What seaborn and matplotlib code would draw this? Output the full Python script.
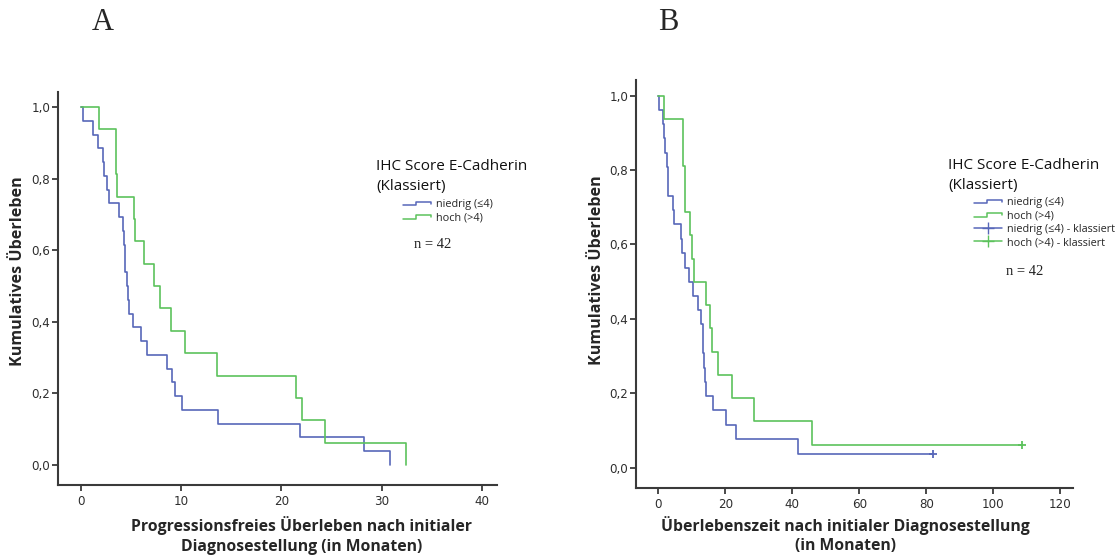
import matplotlib
matplotlib.use("Agg")
import matplotlib.pyplot as plt
from matplotlib.lines import Line2D
from matplotlib.legend_handler import HandlerBase
import numpy as np
import pandas as pd
import seaborn as sns

# ---- Kaplan-Meier step data: event times (months) and survival after each event ----
# A: progression-free survival
pfs_low_t = [0.26, 1.26, 1.7, 2.2, 2.3, 2.6, 2.85, 3.85, 4.25, 4.3, 4.38, 4.45, 4.58,
             4.75, 4.85, 5.25, 6.0, 6.65, 8.65, 9.15, 9.4, 10.15, 13.7, 21.85, 28.25, 30.85]
pfs_low_s = [0.962, 0.923, 0.885, 0.846, 0.808, 0.769, 0.731, 0.692, 0.654, 0.615, 0.577,
             0.538, 0.500, 0.462, 0.423, 0.385, 0.346, 0.308, 0.269, 0.231, 0.192, 0.154,
             0.115, 0.077, 0.038, 0.0]
pfs_high_t = [1.86, 3.52, 3.55, 3.6, 5.3, 5.45, 6.3, 7.35, 7.95, 9.05, 10.4, 13.55,
              21.45, 22.05, 24.35, 32.45]
pfs_high_s = [0.938, 0.875, 0.812, 0.750, 0.688, 0.625, 0.562, 0.500, 0.438, 0.375,
              0.312, 0.250, 0.188, 0.125, 0.062, 0.0]

# B: overall survival (last patient of each group censored)
os_low_t = [0.3, 1.3, 1.7, 2.1, 2.5, 2.8, 3.0, 4.5, 4.8, 6.7, 7.0, 8.0, 9.2, 10.45, 11.9,
            12.6, 13.2, 13.4, 13.7, 13.9, 14.2, 16.2, 20.3, 23.2, 41.8]
os_low_s = [0.962, 0.923, 0.885, 0.846, 0.808, 0.769, 0.731, 0.692, 0.654, 0.615, 0.577,
            0.538, 0.500, 0.462, 0.423, 0.385, 0.346, 0.308, 0.269, 0.231, 0.192, 0.154,
            0.115, 0.077, 0.038]
os_low_cens = 81.9
os_high_t = [1.8, 7.3, 7.4, 8.0, 8.1, 9.45, 10.15, 10.8, 14.2, 15.5, 15.9, 17.9, 22.0,
             28.5, 46.0]
os_high_s = [0.938, 0.875, 0.812, 0.750, 0.688, 0.625, 0.562, 0.500, 0.438, 0.375,
             0.312, 0.250, 0.188, 0.125, 0.062]
os_high_cens = 108.7

group_labels = ["niedrig (≤4)", "hoch (>4)"]
cens_labels = ["niedrig (≤4) - klassiert", "hoch (>4) - klassiert"]
legend_title = "IHC Score E-Cadherin\n(Klassiert)"
n_text = "n = 42"
y_ticks = [0.0, 0.2, 0.4, 0.6, 0.8, 1.0]
y_ticklabels = ["0,0", "0,2", "0,4", "0,6", "0,8", "1,0"]
xticks_a = [0, 10, 20, 30, 40]
xticks_b = [0, 20, 40, 60, 80, 100, 120]
ylabel = "Kumulatives Überleben"
xlabel_a = "Progressionsfreies Überleben nach initialer\nDiagnosestellung (in Monaten)"
xlabel_b = "Überlebenszeit nach initialer Diagnosestellung\n(in Monaten)"

BLUE = "#5767b9"
GREEN = "#5cc25c"
AXC = "#3a3a3a"
SANS = ["Open Sans", "DejaVu Sans"]

sns.set_style("ticks")
plt.rcParams["font.family"] = ["DejaVu Sans"]


def km_frame(times, surv, end=None):
    t = [0.0] + list(times)
    s = [1.0] + list(surv)
    if end is not None:
        t.append(end)
        s.append(surv[-1])
    return pd.DataFrame({"t": t, "s": s})


class StepHandler(HandlerBase):
    """Legend key drawn as a small survival step."""
    def create_artists(self, legend, orig_handle, xdescent, ydescent, width, height,
                       fontsize, trans):
        x0, y0 = -xdescent, -ydescent
        xs = [x0, x0 + 0.45 * width, x0 + 0.45 * width, x0 + width, x0 + width]
        ys = [y0 + 0.2 * height, y0 + 0.2 * height, y0 + 0.7 * height,
              y0 + 0.7 * height, y0 + 0.4 * height]
        ln = Line2D(xs, ys, color=orig_handle.get_color(), lw=1.1, transform=trans)
        return [ln]


fig = plt.figure(figsize=(11.15, 5.58), dpi=100)
W, H = 1115, 558
axA = fig.add_axes([58 / W, 1 - 485 / H, 439 / W, 393 / H])
axB = fig.add_axes([636 / W, 1 - 488 / H, 436.7 / W, 408 / H])

# Panel A curves
sns.lineplot(data=km_frame(pfs_low_t, pfs_low_s), x="t", y="s", ax=axA, color=BLUE,
             drawstyle="steps-post", estimator=None, sort=False, lw=1.2)
sns.lineplot(data=km_frame(pfs_high_t, pfs_high_s), x="t", y="s", ax=axA, color=GREEN,
             drawstyle="steps-post", estimator=None, sort=False, lw=1.2)

# Panel B curves with censored endpoints
sns.lineplot(data=km_frame(os_low_t, os_low_s, os_low_cens), x="t", y="s", ax=axB,
             color=BLUE, drawstyle="steps-post", estimator=None, sort=False, lw=1.2)
sns.lineplot(data=km_frame(os_high_t, os_high_s, os_high_cens), x="t", y="s", ax=axB,
             color=GREEN, drawstyle="steps-post", estimator=None, sort=False, lw=1.2)
sns.scatterplot(x=[os_low_cens], y=[os_low_s[-1]], ax=axB, marker="+", s=40,
                color=BLUE, linewidth=1.3, zorder=5)
sns.scatterplot(x=[os_high_cens], y=[os_high_s[-1]], ax=axB, marker="+", s=40,
                color=GREEN, linewidth=1.3, zorder=5)

for ax, xt, xl, lab in [(axA, xticks_a, (-2.26, 41.5), xlabel_a),
                        (axB, xticks_b, (-6.66, 123.7), xlabel_b)]:
    ax.set_xlim(*xl)
    ax.set_xticks(xt)
    ax.set_xticklabels([str(v) for v in xt])
    ax.set_yticks(y_ticks)
    ax.set_yticklabels(y_ticklabels)
    for sp in ["top", "right"]:
        ax.spines[sp].set_visible(False)
    for sp in ["left", "bottom"]:
        ax.spines[sp].set_color(AXC)
        ax.spines[sp].set_linewidth(1.5)
    ax.tick_params(axis="both", length=4, width=1.3, color=AXC, labelsize=8.6,
                   labelcolor="#2e2e2e", direction="out")
    ax.tick_params(axis="y", pad=1.5)
    ax.tick_params(axis="x", pad=3.5)
    ax.set_ylabel(ylabel, fontsize=11.6, fontweight="bold", family=SANS)
    ax.set_xlabel(lab, fontsize=11.3, fontweight="bold", family=SANS, linespacing=1.3)
    ax.set_facecolor("white")

axA.set_ylim(-0.0559, 1.042)
axB.set_ylim(-0.0546, 1.042)
axA.yaxis.set_label_coords(-0.073, 0.545)
axB.yaxis.set_label_coords(-0.071, 0.534)
axA.xaxis.set_label_coords(0.555, -0.08)
axB.xaxis.set_label_coords(0.479, -0.068)

# Legend titles, entries and sample size
fig.text(376 / W, 1 - 159 / H, legend_title, ha="left", va="top", fontsize=11,
         family=SANS, color="#111111", linespacing=1.45)
fig.text(948 / W, 1 - 158 / H, legend_title, ha="left", va="top", fontsize=11,
         family=SANS, color="#111111", linespacing=1.45)

step_handles = [Line2D([], [], color=BLUE), Line2D([], [], color=GREEN)]
cens_handles = [Line2D([], [], color=BLUE, marker="+", markersize=8, lw=1.1),
                Line2D([], [], color=GREEN, marker="+", markersize=8, lw=1.1)]
leg_kw = dict(frameon=False, handlelength=2.6, handletextpad=0.45,
              labelspacing=0.22, borderpad=0, borderaxespad=0,
              prop={"family": SANS, "size": 7.8})
hmap = {step_handles[0]: StepHandler(), step_handles[1]: StepHandler()}
legA = fig.legend(step_handles, group_labels, loc="upper left",
                  bbox_to_anchor=(403 / W, 1 - 199 / H), handler_map=hmap, **leg_kw)
legB = fig.legend(step_handles + cens_handles, group_labels + cens_labels,
                  loc="upper left", bbox_to_anchor=(974 / W, 1 - 197 / H),
                  handler_map=hmap, **leg_kw)

fig.text(433 / W, 1 - 245 / H, n_text, ha="center", va="center", fontsize=10.5,
         family=["Liberation Serif"], color="#222222")
fig.text(1025 / W, 1 - 272 / H, n_text, ha="center", va="center", fontsize=10.5,
         family=["Liberation Serif"], color="#222222")

# Panel letters
fig.text(103 / W, 1 - 23 / H, "A", ha="center", va="center", fontsize=22,
         family=["Liberation Serif"])
fig.text(668 / W, 1 - 23 / H, "B", ha="center", va="center", fontsize=22,
         family=["Liberation Serif"])

fig.savefig("out.png", dpi=100, facecolor="white")
